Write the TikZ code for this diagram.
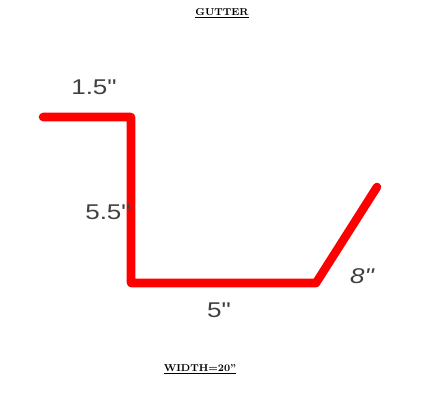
\documentclass[tikz,border=0pt]{standalone}
\usepackage{fontspec}
\newfontfamily\dimfont{Liberation Sans}
\usetikzlibrary{positioning}
\tikzset{
  gutterline/.style={draw=red, line width=6.4pt, line cap=round, line join=round},
  dimlabel/.style={inner sep=0pt, xscale=1.22, transform shape, text=black!75, font=\dimfont\fontsize{16}{16}\selectfont},
  titlelabel/.style={inner sep=0pt, font=\bfseries\fontsize{7.5}{9}\selectfont}
}
\begin{document}
\begin{tikzpicture}[x=0.75pt, y=-0.75pt]
        \useasboundingbox (0,0) rectangle (447,407);
        % Titles
        \node (title) [titlelabel] at (222,13) {\underline{GUTTER}};
        \node (width) [titlelabel] at (200,369) {\underline{WIDTH=20''}};

        % Bends
        \coordinate (lip) at (43,117);
        \coordinate (topbend) at (131,117);
        \coordinate (lowbend) at (131,283);
        \coordinate (rightbend) at (316,283);
        \coordinate (edge) at (377,187);
        \draw [gutterline] (lip) -- (topbend) -- (lowbend) -- (rightbend) -- (edge);

        % Dimensions
        \node (dimlip) [dimlabel] at (94,87) {1.5"};
        \node (dimwall) [dimlabel] at (108,212) {5.5"};
        \node (dimbase) [dimlabel] at (219,310) {5"};
        \node (dimslope) [dimlabel] at (362,276) {\itshape 8"};
\end{tikzpicture}
\end{document}
